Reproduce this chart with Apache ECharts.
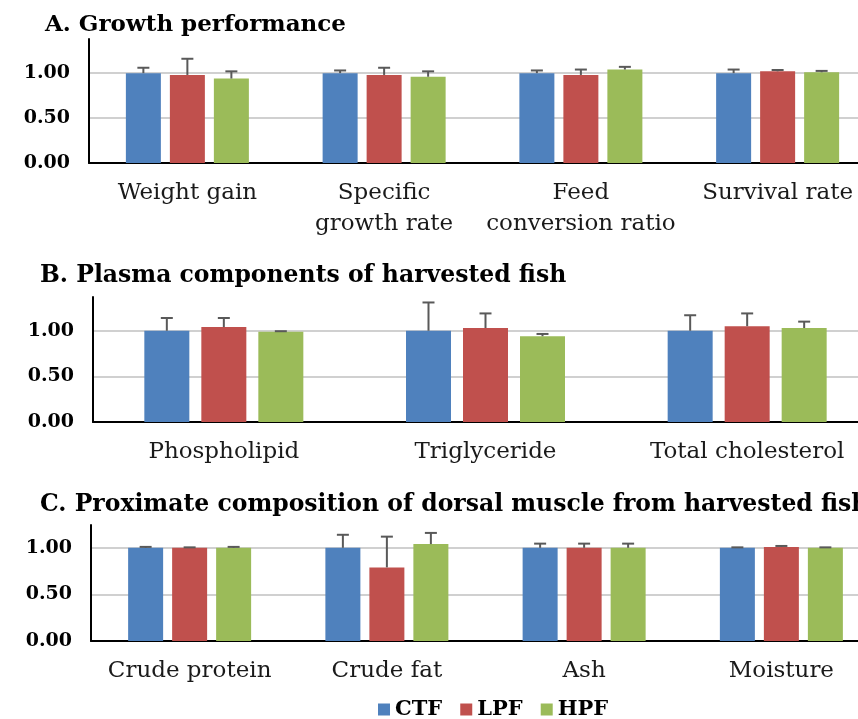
<!DOCTYPE html>
<html>
<head>
<meta charset="utf-8">
<script src="https://cdn.jsdelivr.net/npm/echarts@6/dist/echarts.min.js"></script>
<style>
  html, body { margin: 0; padding: 0; background: #fff; }
  #chart { width: 858px; height: 719px; }
</style>
</head>
<body>
<div id="chart"></div>
<script>
const seriesNames = ['CTF', 'LPF', 'HPF'];
const colors = ['#4f81bd', '#c0504d', '#9bbb59'];
const yTicks = [0, 0.5, 1.0];

// A. Growth performance
const catsA = ['Weight gain', 'Specific\ngrowth rate', 'Feed\nconversion ratio', 'Survival rate'];
const ctfA = [1.00, 1.00, 1.00, 1.00];
const lpfA = [0.98, 0.98, 0.98, 1.02];
const hpfA = [0.94, 0.96, 1.04, 1.01];
const ctfErrA = [0.06, 0.03, 0.03, 0.04];
const lpfErrA = [0.18, 0.08, 0.06, 0.015];
const hpfErrA = [0.08, 0.06, 0.03, 0.015];

// B. Plasma components
const catsB = ['Phospholipid', 'Triglyceride', 'Total cholesterol'];
const ctfB = [1.00, 1.00, 1.00];
const lpfB = [1.04, 1.03, 1.05];
const hpfB = [0.99, 0.94, 1.03];
const ctfErrB = [0.14, 0.31, 0.17];
const lpfErrB = [0.10, 0.16, 0.14];
const hpfErrB = [0.005, 0.025, 0.07];

// C. Proximate composition
const catsC = ['Crude protein', 'Crude fat', 'Ash', 'Moisture'];
const ctfC = [1.00, 1.00, 1.00, 1.00];
const lpfC = [1.00, 0.79, 1.00, 1.01];
const hpfC = [1.00, 1.04, 1.00, 1.00];
const ctfErrC = [0.01, 0.14, 0.045, 0.005];
const lpfErrC = [0.005, 0.33, 0.045, 0.01];
const hpfErrC = [0.01, 0.12, 0.045, 0.005];

const font = 'DejaVu Serif';

// plot areas run past the right edge, like the cropped original
const panels = [
  { title: 'A. Growth performance', titleLeft: 40, titleTop: 9, titleSize: 23,
    grid: { left: 89, top: 39, width: 787, height: 124 }, max: 1.38,
    cats: catsA, vals: [ctfA, lpfA, hpfA], errs: [ctfErrA, lpfErrA, hpfErrA], barW: 35, gap: 9 },
  { title: 'B. Plasma components of harvested fish', titleLeft: 35, titleTop: 259, titleSize: 23.5,
    grid: { left: 93, top: 297, width: 785, height: 125 }, max: 1.37,
    cats: catsB, vals: [ctfB, lpfB, hpfB], errs: [ctfErrB, lpfErrB, hpfErrB], barW: 45, gap: 12 },
  { title: 'C. Proximate composition of dorsal muscle from harvested fish', titleLeft: 35, titleTop: 488, titleSize: 23.5,
    grid: { left: 91, top: 525, width: 789, height: 116 }, max: 1.245,
    cats: catsC, vals: [ctfC, lpfC, hpfC], errs: [ctfErrC, lpfErrC, hpfErrC], barW: 35, gap: 9 }
];

const title = [], grid = [], xAxis = [], yAxis = [], series = [];

panels.forEach((p, pi) => {
  title.push({
    text: p.title, left: p.titleLeft, top: p.titleTop,
    textStyle: { fontFamily: font, fontWeight: 'bold', fontSize: p.titleSize, color: '#000' }
  });
  grid.push(Object.assign({ outerBoundsMode: 'none', containLabel: false }, p.grid));
  xAxis.push({
    type: 'category', gridIndex: pi, data: p.cats,
    axisLine: { lineStyle: { color: '#000', width: 2 } },
    axisTick: { show: false },
    axisLabel: { fontFamily: font, fontSize: 23, color: '#1a1a1a', margin: 15, lineHeight: 31, interval: 0 }
  });
  yAxis.push({
    type: 'value', gridIndex: pi, min: 0, max: p.max, interval: 0.5,
    axisLine: { show: true, lineStyle: { color: '#000', width: 2 } },
    axisTick: { show: false },
    splitLine: { show: true, showMaxLine: false, lineStyle: { color: '#d0d0d0', width: 2 } },
    axisLabel: {
      fontFamily: font, fontSize: 19, fontWeight: 'bold', color: '#000', margin: 19,
      showMaxLabel: false,
      formatter: v => yTicks.includes(v) ? v.toFixed(2) : ''
    }
  });
  seriesNames.forEach((name, si) => {
    series.push({
      name: name, type: 'bar', xAxisIndex: pi, yAxisIndex: pi,
      data: p.vals[si], barWidth: p.barW, barGap: (p.gap / p.barW * 100) + '%',
      itemStyle: { color: colors[si] }, silent: true
    });
  });
  seriesNames.forEach((name, si) => {
    const off = (si - 1) * (p.barW + p.gap);
    series.push({
      name: name + ' err', type: 'custom', xAxisIndex: pi, yAxisIndex: pi, silent: true,
      data: p.vals[si].map((v, i) => [i, v, p.errs[si][i]]),
      encode: { x: 0, y: 1 },
      z: 5,
      renderItem: (params, api) => {
        const i = api.value(0), v = api.value(1), e = api.value(2);
        const base = api.coord([i, v]);
        const top = api.coord([i, v + e]);
        const x = base[0] + off;
        const st = { stroke: '#595959', lineWidth: 2 };
        return {
          type: 'group',
          children: [
            { type: 'line', shape: { x1: x, y1: base[1], x2: x, y2: top[1] }, style: st },
            { type: 'line', shape: { x1: x - 6, y1: top[1], x2: x + 6, y2: top[1] }, style: st }
          ]
        };
      }
    });
  });
});

const chart = echarts.init(document.getElementById('chart'));
chart.setOption({
  animation: false,
  title: title,
  legend: {
    data: seriesNames, left: 378, top: 699, padding: 0, itemWidth: 12, itemHeight: 12, itemGap: 18,
    icon: 'rect',
    textStyle: { fontFamily: font, fontWeight: 'bold', fontSize: 21, color: '#000' }
  },
  grid: grid,
  xAxis: xAxis,
  yAxis: yAxis,
  series: series
});
</script>
</body>
</html>
